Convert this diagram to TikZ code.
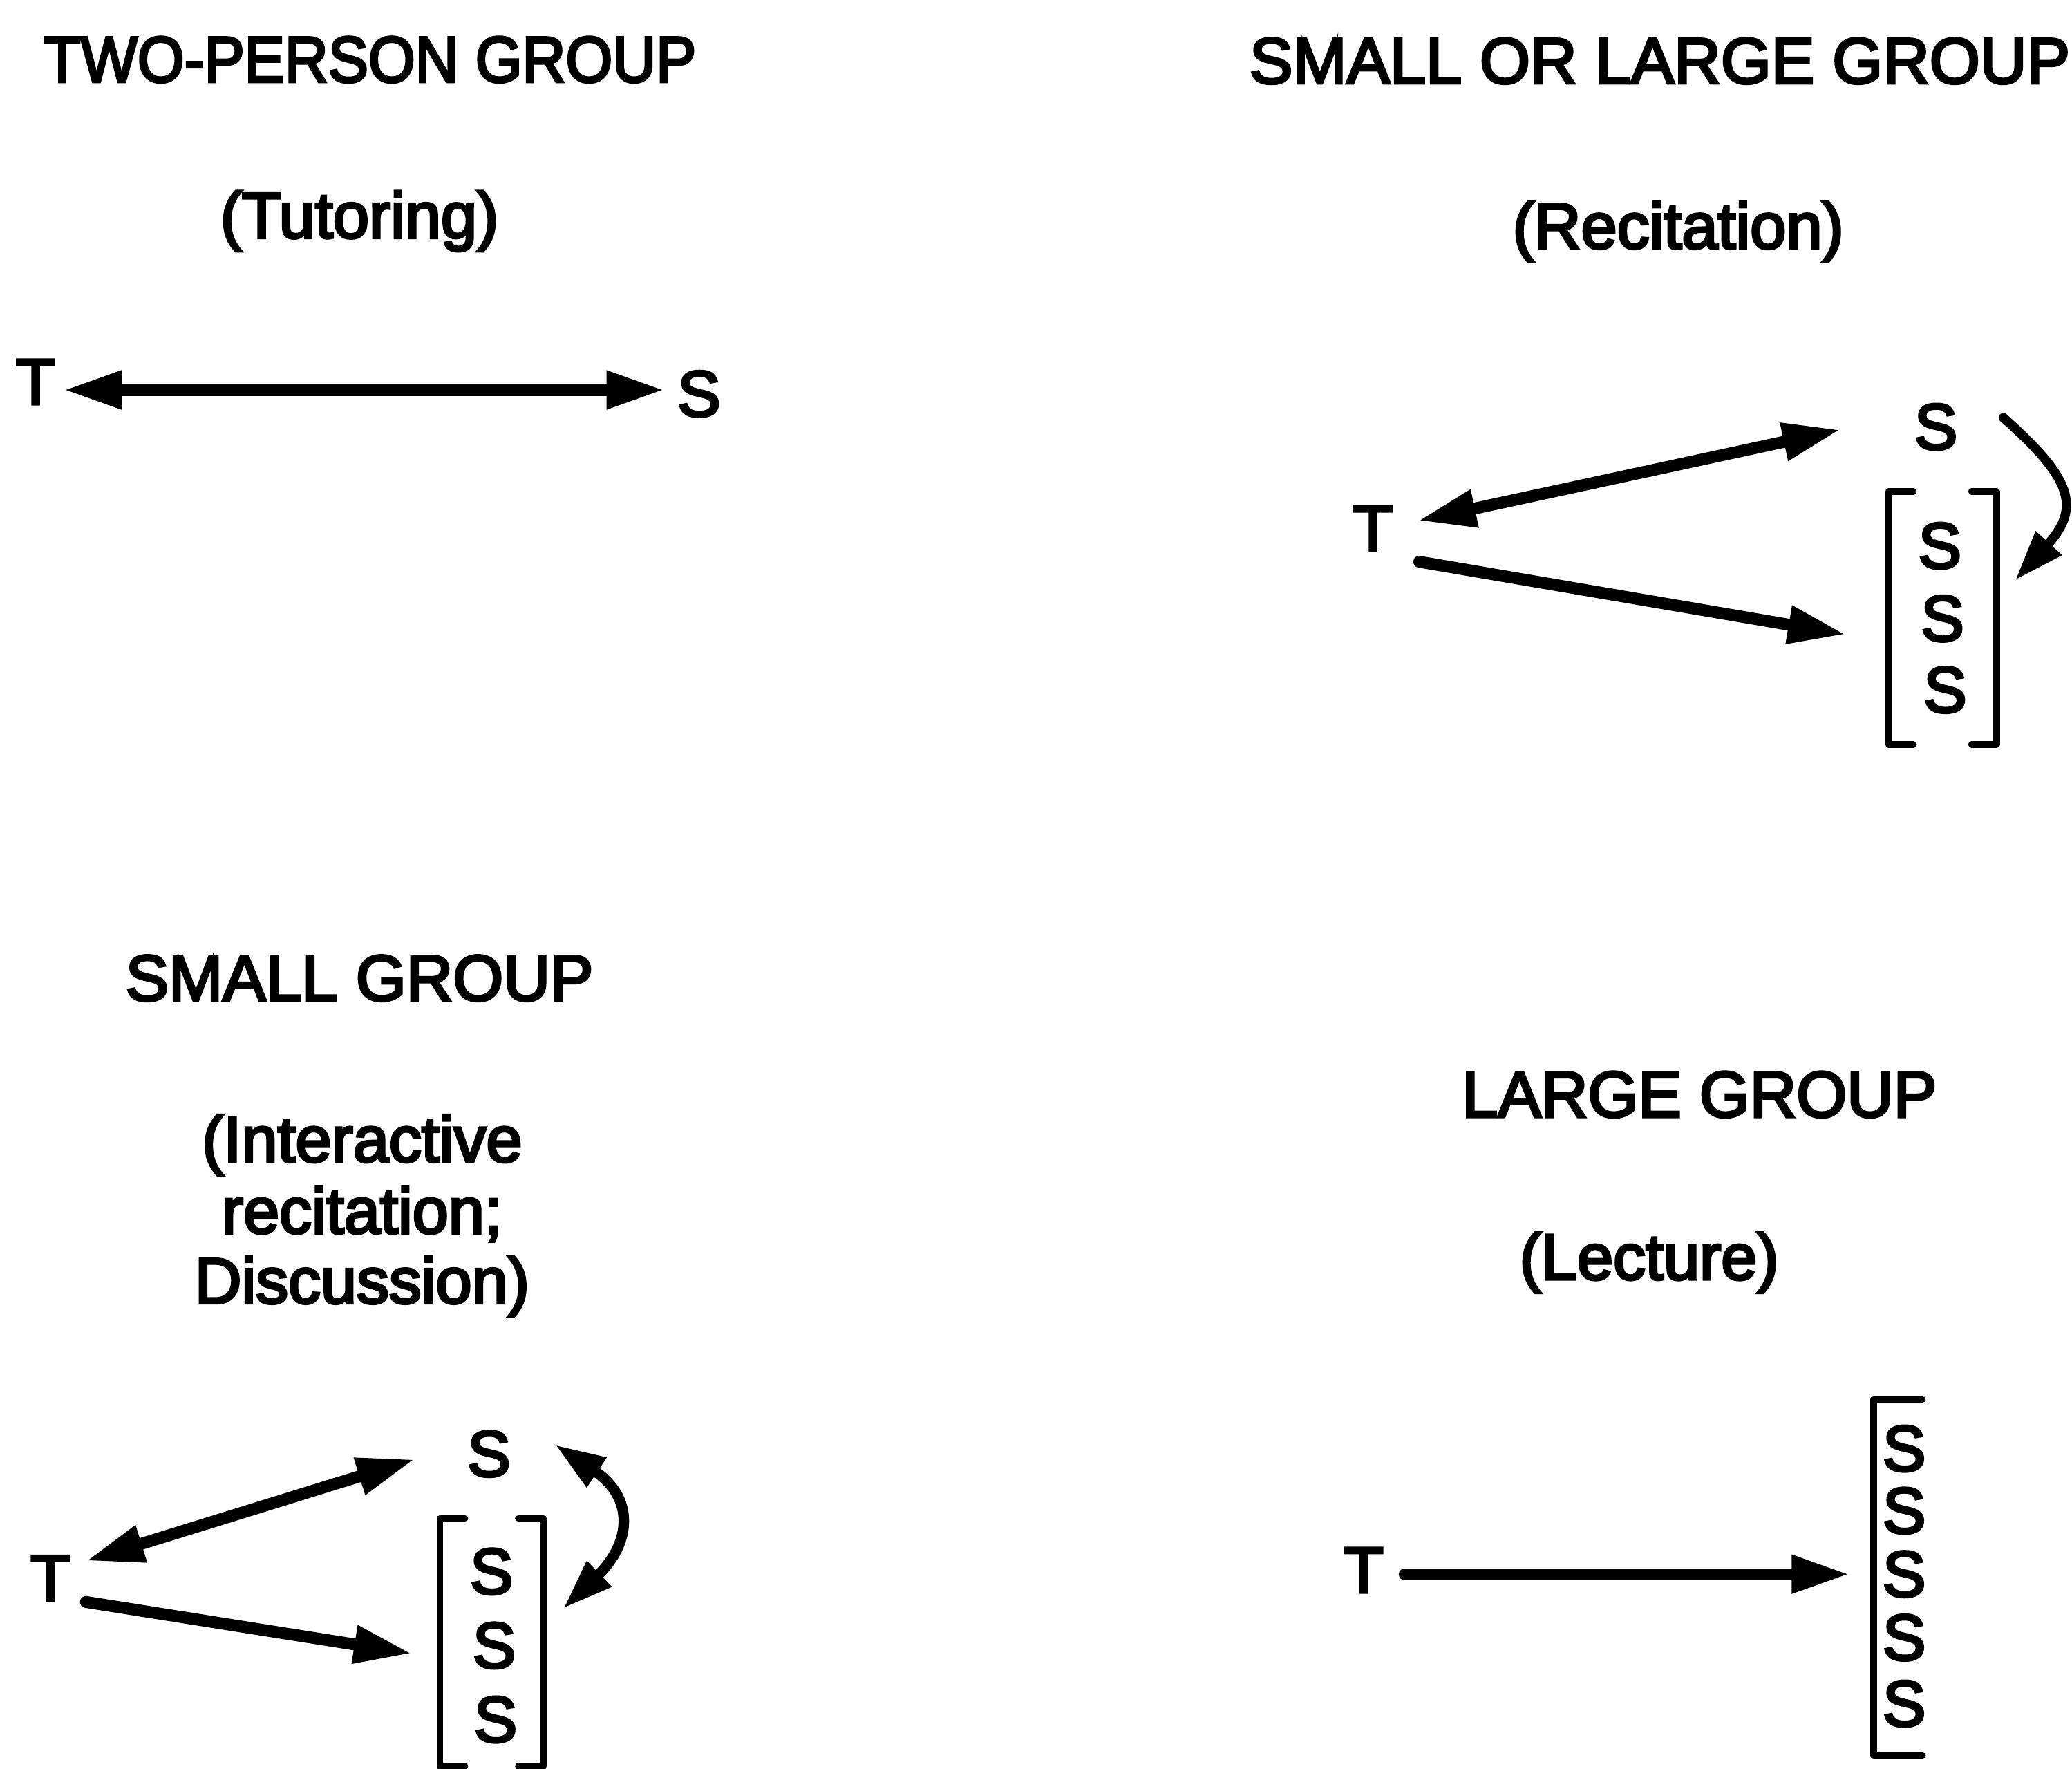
\documentclass[tikz,border=0pt]{standalone}
\usepackage{fontspec}
\usepackage{graphicx}
\newfontfamily\diagfont{Liberation Sans}[FakeBold=4]
\usetikzlibrary{arrows.meta}
\begin{document}
\begin{tikzpicture}[x=1pt,y=-1pt,
  txt/.style={font=\diagfont\fontsize{49}{53.5}\selectfont, inner sep=0pt, anchor=base},
  lbl/.style={font=\diagfont\fontsize{49}{53.5}\selectfont, inner sep=0pt},
  grp/.style={draw=none, inner sep=0pt, minimum width=#1},
  link/.style={line width=9pt, line cap=round, >={Triangle[length=44pt,width=27pt]}},
  swing/.style={line width=#1, line cap=round, >={Triangle[length=38pt,width=25pt]}},
  brack/.style={line width=5pt, line cap=round, line join=round}]

\useasboundingbox (0,0) rectangle (1568,1338);

% ---------------- two-person group ----------------
\node[txt] (h1) at (280,62) {\scalebox{0.93}[1]{TWO-PERSON GROUP}};
\node[txt] (m1) at (272,180) {(Tutoring)};
\node[lbl] (T1) at (27,289) {T};
\node[lbl] (S1) at (529,298) {S};
\draw[link,<->] ([shift={(21,6)}]T1.center) -- ([shift={(-26,-3)}]S1.center);

% ---------------- small or large group ----------------
\node[txt] (h2) at (1256,63) {SMALL OR LARGE GROUP};
\node[txt] (m2) at (1270,188) {(Recitation)};
\node[lbl] (T2) at (1039,400) {T};
\node[lbl] (S2) at (1465,323) {S};
\node[lbl] (S2a) at (1468,413) {S};
\node[lbl] (S2b) at (1470,468) {S};
\node[lbl] (S2c) at (1472,522) {S};
\node[grp=81.5pt, minimum height=191pt] (B2) at (1470,467.5) {};
\draw[brack] ([xshift=19pt]B2.north west) -- (B2.north west) -- (B2.south west) -- ([xshift=19pt]B2.south west);
\draw[brack] ([xshift=-19pt]B2.north east) -- (B2.north east) -- (B2.south east) -- ([xshift=-19pt]B2.south east);
\draw[link,<->] ([shift={(34,-6)}]T2.center) -- ([shift={(-72,2)}]S2.center);
\draw[link,->] ([shift={(35,25)}]T2.center) -- ([shift={(-73,12)}]S2b.center);
\draw[swing=7pt,->] ([shift={(51,-7)}]S2.center) .. controls +(52,46) and +(50,-55) .. ([shift={(14,-28.5)}]B2.east);

% ---------------- small group ----------------
\node[txt] (h3) at (272,757) {SMALL GROUP};
\node[txt] (m3a) at (274,879) {(Interactive};
\node[txt] (m3b) at (274,933) {recitation;};
\node[txt] (m3c) at (274,986) {Discussion)};
\node[lbl] (T3) at (38,1194) {T};
\node[lbl] (S3) at (370,1100) {S};
\node[lbl] (S3a) at (372,1189) {S};
\node[lbl] (S3b) at (374,1245) {S};
\node[lbl] (S3c) at (375,1301) {S};
\node[grp=78pt, minimum height=187pt] (B3) at (372,1242.5) {};
\draw[brack] ([xshift=19pt]B3.north west) -- (B3.north west) -- (B3.south west) -- ([xshift=19pt]B3.south west);
\draw[brack] ([xshift=-19pt]B3.north east) -- (B3.north east) -- (B3.south east) -- ([xshift=-19pt]B3.south east);
\draw[link,<->] ([shift={(27,-13)}]T3.center) -- ([shift={(-56,4)}]S3.center);
\draw[link,->] ([shift={(27,18)}]T3.center) -- ([shift={(-21,8.5)}]B3.west);
\draw[swing=8pt,<->] ([shift={(50,-7)}]S3.center) .. controls +(60,40) and +(52,-50) .. ([shift={(15,-25.5)}]B3.east);

% ---------------- large group ----------------
\node[txt] (h4) at (1286,845) {LARGE GROUP};
\node[txt] (m4) at (1248,968) {(Lecture)};
\node[lbl] (T4) at (1032,1188) {T};
\node[lbl] (S4a) at (1441,1096) {S};
\node[lbl] (S4b) at (1441,1143) {S};
\node[lbl] (S4c) at (1441,1191) {S};
\node[lbl] (S4d) at (1441,1239) {S};
\node[lbl] (S4e) at (1441,1289) {S};
\node[grp=40pt, minimum height=269pt] (B4) at (1438,1193.5) {};
\draw[brack] ([xshift=37pt]B4.north west) -- (B4.north west) -- (B4.south west) -- ([xshift=37pt]B4.south west);
\draw[link,->] ([shift={(31,3)}]T4.center) -- ([shift={(-18,-2.5)}]B4.west);

\end{tikzpicture}
\end{document}
